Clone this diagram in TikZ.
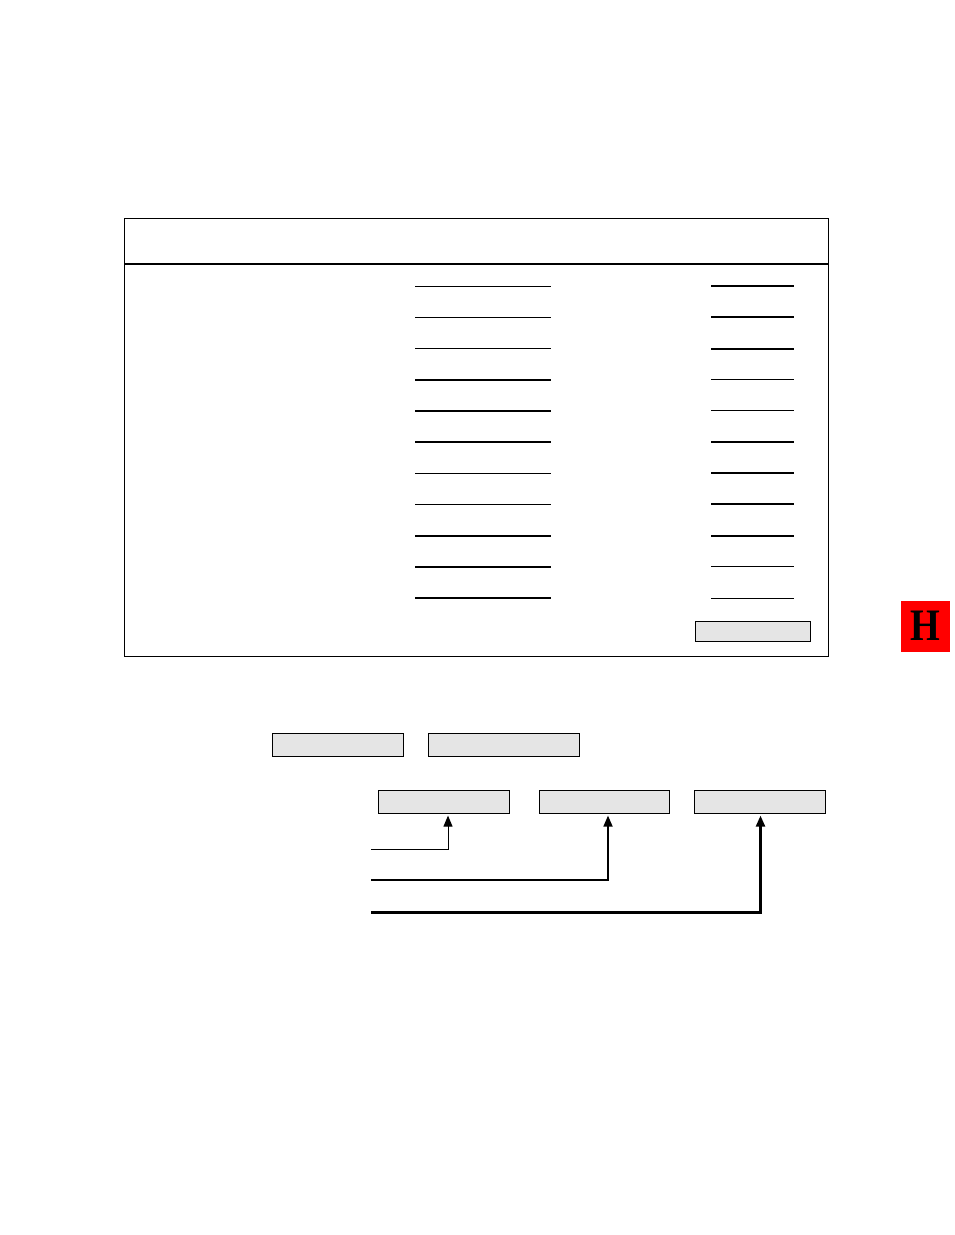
\documentclass[tikz,border=0pt]{standalone}
\usepackage{fontspec}
\newfontfamily\hfont{Liberation Serif}
\usetikzlibrary{arrows.meta,calc}
\definecolor{boxgray}{HTML}{E5E5E5}
\tikzset{
  graybox/.style={draw=black, line width=1.1pt, fill=boxgray, inner sep=0pt, anchor=north west},
  conn/.style={-{Triangle[length=11pt,width=9pt]}, shorten >=1.5pt},
}
\begin{document}
\begin{tikzpicture}[x=1pt,y=-1pt]
\useasboundingbox (0,0) rectangle (954,1235);
% main panel
\node[draw=black, line width=1pt, minimum width=704pt, minimum height=438pt, inner sep=0pt, anchor=north west] (panel) at (124,218) {};
\draw[line width=2pt] (124,264) -- (828,264);
% rows of rules
\foreach \i/\lw/\rw in {0/1/2, 1/1/2, 2/1/2, 3/2/1, 4/2/1, 5/2/2, 6/1/2, 7/1/2, 8/2/2, 9/2/1, 10/2/1} {
  \pgfmathsetmacro{\yy}{286.3+31.17*\i}
  \draw[line width=\lw pt] (415,\yy) -- (551,\yy);
  \draw[line width=\rw pt] (711,\yy) -- (794,\yy);
}
% button in panel
\node[graybox, line width=1.4pt, minimum width=115pt, minimum height=19.5pt] (btn) at (695,621) {};
% red H badge
\node[fill=red, minimum width=49pt, minimum height=51pt, inner sep=0pt, anchor=north west] (badge) at (901,601) {};
\node[font=\hfont\bfseries\fontsize{45}{45}\selectfont, text=black, inner sep=0pt, xscale=0.85] (hletter) at ([yshift=1pt]badge.center) {H};
% lower boxes
\node[graybox, minimum width=131pt, minimum height=23pt] (a) at (272,733) {};
\node[graybox, minimum width=151pt, minimum height=23pt] (b) at (428,733) {};
\node[graybox, minimum width=131pt, minimum height=23pt] (c) at (378,790) {};
\node[graybox, minimum width=130pt, minimum height=23pt] (d) at (539,790) {};
\node[graybox, minimum width=131pt, minimum height=23pt] (e) at (694,790) {};
% connectors
\coordinate (s1) at (371,849.3);
\coordinate (s2) at (371,880.3);
\coordinate (s3) at (371,912.5);
\coordinate (tc) at ($(c.south west)+(70,0)$);
\coordinate (td) at ($(d.south west)+(69,0)$);
\coordinate (te) at ($(e.south west)+(66.5,0)$);
\draw[conn, line width=1pt] (s1) -| (tc);
\draw[conn, line width=1.7pt] (s2) -| (td);
\draw[conn, line width=2.3pt] (s3) -| (te);
\end{tikzpicture}
\end{document}
